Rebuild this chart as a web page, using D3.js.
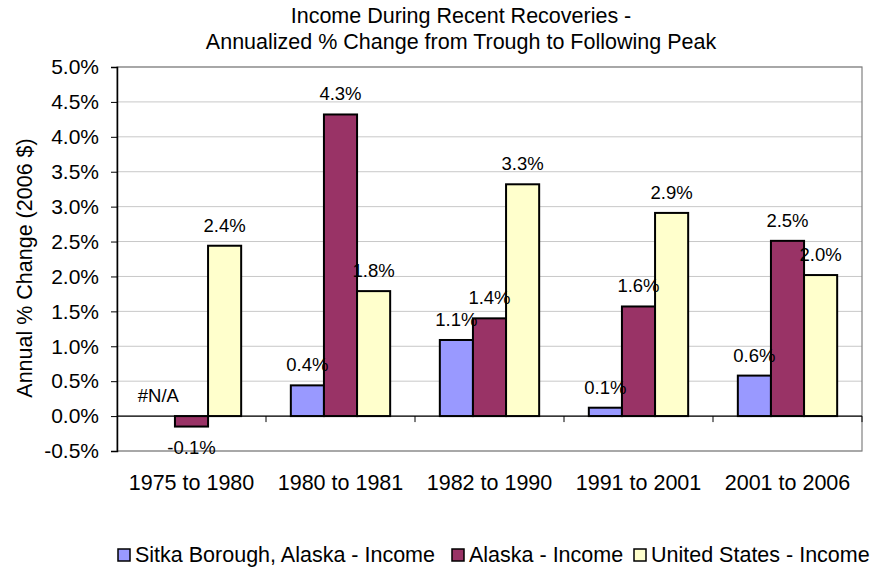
<!DOCTYPE html>
<html>
<head>
<meta charset="utf-8">
<script src="https://cdn.jsdelivr.net/npm/d3@7"></script>
<style>
  body { margin: 0; background: #fff; }
  svg text { font-family: "Liberation Sans", Arial, sans-serif; fill: #000; }
</style>
</head>
<body>
<div id="chart"></div>
<script>
const periodos = ["1975 to 1980", "1980 to 1981", "1982 to 1990", "1991 to 2001", "2001 to 2006"];
const series = ["Sitka Borough, Alaska - Income", "Alaska - Income", "United States - Income"];
const sitka = [null, 0.44, 1.09, 0.12, 0.58];
const alaska = [-0.15, 4.32, 1.40, 1.57, 2.51];
const usa = [2.44, 1.79, 3.32, 2.91, 2.02];
const yTicks = [-0.5, 0, 0.5, 1, 1.5, 2, 2.5, 3, 3.5, 4, 4.5, 5];

const colores = ["#9999FF", "#993366", "#FFFFCC"];
const valores = [sitka, alaska, usa];

const width = 874, height = 569;
const plot = { left: 117, right: 862, top: 67, bottom: 451 };
const pct = d => d3.format(".1f")(d).replace("−", "-") + "%";

const svg = d3.select("#chart").append("svg")
  .attr("width", width).attr("height", height);

// Título
svg.append("text").attr("x", 461).attr("y", 23).attr("text-anchor", "middle")
  .style("font-size", "21.5px").text("Income During Recent Recoveries -");
svg.append("text").attr("x", 461).attr("y", 49).attr("text-anchor", "middle")
  .style("font-size", "21.5px").text("Annualized % Change from Trough to Following Peak");

const x = d3.scaleBand().domain(periodos).range([plot.left, plot.right]);
const xs = d3.scaleBand().domain(d3.range(3)).range([0, x.bandwidth()]).paddingOuter(0.75);
const y = d3.scaleLinear().domain([-0.5, 5]).range([plot.bottom, plot.top]);

// Rejilla
svg.append("g").selectAll("line").data(yTicks).join("line")
  .attr("x1", plot.left).attr("x2", plot.right)
  .attr("y1", d => y(d)).attr("y2", d => y(d))
  .attr("stroke", "#c8c8c8").attr("stroke-width", 1);

svg.append("rect")
  .attr("x", plot.left).attr("y", plot.top)
  .attr("width", plot.right - plot.left).attr("height", plot.bottom - plot.top)
  .attr("fill", "none").attr("stroke", "#808080").attr("stroke-width", 1.2);

// Eje Y
const yAxis = d3.axisLeft(y).tickValues(yTicks).tickSize(6).tickPadding(12)
  .tickFormat(pct);
const gy = svg.append("g").attr("transform", `translate(${plot.left},0)`).call(yAxis);
gy.select(".domain").attr("stroke", "#000").attr("stroke-width", 1.5);
gy.selectAll(".tick line").attr("stroke", "#000");
gy.selectAll(".tick text").style("font-size", "21px").attr("font-family", null);

svg.append("text")
  .attr("transform", `translate(32,268) rotate(-90)`)
  .attr("text-anchor", "middle").style("font-size", "21.5px")
  .text("Annual % Change (2006 $)");

// Barras
const datos = [];
valores.forEach((serie, s) => serie.forEach((v, i) => datos.push({ s, i, v })));

const barras = svg.append("g");
barras.selectAll("rect").data(datos.filter(d => d.v !== null)).join("rect")
  .attr("x", d => x(periodos[d.i]) + xs(d.s))
  .attr("width", xs.bandwidth())
  .attr("y", d => y(Math.max(0, d.v)))
  .attr("height", d => Math.abs(y(d.v) - y(0)))
  .attr("fill", d => colores[d.s])
  .attr("stroke", "#000").attr("stroke-width", 2);

// Eje X en cero
svg.append("line").attr("x1", plot.left).attr("x2", plot.right)
  .attr("y1", y(0)).attr("y2", y(0)).attr("stroke", "#000").attr("stroke-width", 1.2);
svg.append("g").selectAll("line").data(periodos.slice(1).concat(["end"])).join("line")
  .attr("x1", d => d === "end" ? plot.right : x(d))
  .attr("x2", d => d === "end" ? plot.right : x(d))
  .attr("y1", y(0)).attr("y2", y(0) + 6).attr("stroke", "#000");

svg.append("g").selectAll("text").data(periodos).join("text")
  .attr("x", d => x(d) + x.bandwidth() / 2).attr("y", 490)
  .attr("text-anchor", "middle").style("font-size", "21.5px")
  .text(d => d);

// Etiquetas de datos
svg.append("g").selectAll("text").data(datos).join("text")
  .attr("x", d => x(periodos[d.i]) + xs(d.s) + xs.bandwidth() / 2)
  .attr("y", d => d.v !== null && d.v < 0 ? y(d.v) + 27 : y(d.v === null ? 0 : d.v) - 14)
  .attr("text-anchor", "middle").style("font-size", "18.5px")
  .text(d => d.v === null ? "#N/A" : pct(d.v));

// Leyenda
const leyendaX = [118, 452, 634];
const ley = svg.append("g").selectAll("g").data(series).join("g")
  .attr("transform", (d, i) => `translate(${leyendaX[i]},549)`);
ley.append("rect").attr("width", 12).attr("height", 12)
  .attr("fill", (d, i) => colores[i]).attr("stroke", "#000").attr("stroke-width", 1.5);
ley.append("text").attr("x", 17).attr("y", 13).style("font-size", "21.5px").text(d => d);
</script>
</body>
</html>
